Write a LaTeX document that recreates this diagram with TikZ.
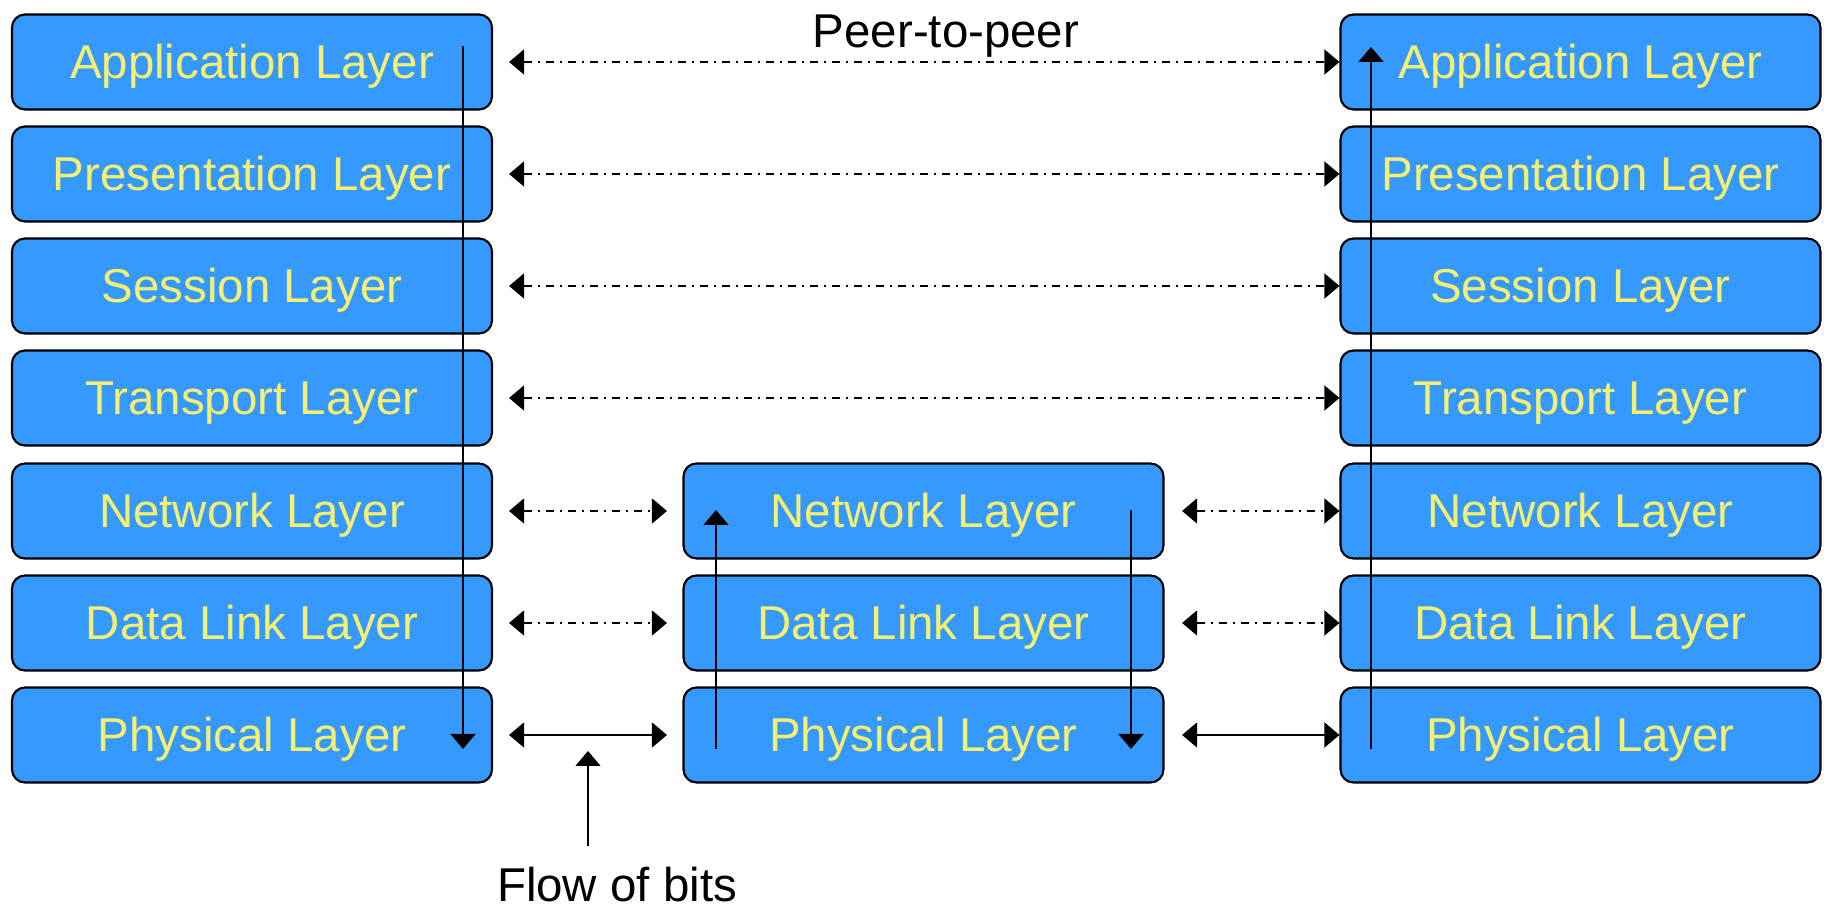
\documentclass[tikz,border=0pt]{standalone}
\usepackage{fontspec}
\setmainfont{Liberation Sans}
\usetikzlibrary{arrows.meta}
\definecolor{layerblue}{RGB}{54,153,255}
\definecolor{layertext}{RGB}{245,240,112}

\begin{document}
\begin{tikzpicture}[
    >={Triangle[length=0.15cm,width=0.25cm]},
    layer/.style={draw=black, line width=0.6pt, fill=layerblue, rounded corners=0.13cm,
        minimum width=4.8cm, minimum height=0.95cm, inner sep=0pt,
        text height=0.44cm, text depth=0.1cm,
        text=layertext, font=\fontsize{13.5}{16}\selectfont},
    label/.style={inner sep=0pt, font=\fontsize{13.5}{16}\selectfont},
    peer/.style={line width=0.4pt, <->, dash pattern=on 0.08cm off 0.06cm on 0.02cm off 0.06cm},
    wire/.style={line width=0.4pt, <->},
    pass/.style={line width=0.4pt, ->}
]
    \useasboundingbox (0, 0) rectangle (18.24, 9.07);

    % sending host
    \node[layer] (lApp) at (2.52, 8.45) {Application Layer};
    \node[layer] (lPres) at (2.52, 7.33) {Presentation Layer};
    \node[layer] (lSess) at (2.52, 6.21) {Session Layer};
    \node[layer] (lTrans) at (2.52, 5.09) {Transport Layer};
    \node[layer] (lNet) at (2.52, 3.96) {Network Layer};
    \node[layer] (lData) at (2.52, 2.84) {Data Link Layer};
    \node[layer] (lPhys) at (2.52, 1.72) {Physical Layer};

    % router
    \node[layer] (mNet) at (9.235, 3.96) {Network Layer};
    \node[layer] (mData) at (9.235, 2.84) {Data Link Layer};
    \node[layer] (mPhys) at (9.235, 1.72) {Physical Layer};

    % receiving host
    \node[layer] (rApp) at (15.805, 8.45) {Application Layer};
    \node[layer] (rPres) at (15.805, 7.33) {Presentation Layer};
    \node[layer] (rSess) at (15.805, 6.21) {Session Layer};
    \node[layer] (rTrans) at (15.805, 5.09) {Transport Layer};
    \node[layer] (rNet) at (15.805, 3.96) {Network Layer};
    \node[layer] (rData) at (15.805, 2.84) {Data Link Layer};
    \node[layer] (rPhys) at (15.805, 1.72) {Physical Layer};

    \node[label] (peerText) at (9.46, 8.71) {Peer-to-peer};
    \node[label] (bitsText) at (6.17, 0.22) {Flow of bits};

    % peer-to-peer arrows
    \foreach \row in {App, Pres, Sess, Trans} {
        \draw[peer] ([xshift=0.16cm]l\row.east) -- (r\row.west);
    }
    \foreach \row in {Net, Data} {
        \draw[peer] ([xshift=0.16cm]l\row.east) -- ([xshift=-0.155cm]m\row.west);
        \draw[peer] ([xshift=0.175cm]m\row.east) -- (r\row.west);
    }
    \draw[wire] ([xshift=0.16cm]lPhys.east) -- ([xshift=-0.155cm]mPhys.west);
    \draw[wire] ([xshift=0.175cm]mPhys.east) -- (rPhys.west);

    % path of the data
    \coordinate (downTop) at (4.63, 8.61);
    \coordinate (downEnd) at (4.63, 1.58);
    \coordinate (upStart) at (7.16, 1.58);
    \coordinate (upEnd) at (7.16, 3.97);
    \coordinate (down2Top) at (11.31, 3.97);
    \coordinate (down2End) at (11.31, 1.58);
    \coordinate (up2Start) at (13.71, 1.58);
    \coordinate (up2End) at (13.71, 8.60);
    \draw[pass] (downTop) -- (downEnd);
    \draw[pass] (upStart) -- (upEnd);
    \draw[pass] (down2Top) -- (down2End);
    \draw[pass] (up2Start) -- (up2End);

    \coordinate (bitsFoot) at (5.88, 0.61);
    \coordinate (bitsTip) at (5.88, 1.56);
    \draw[pass] (bitsFoot) -- (bitsTip);
\end{tikzpicture}
\end{document}
